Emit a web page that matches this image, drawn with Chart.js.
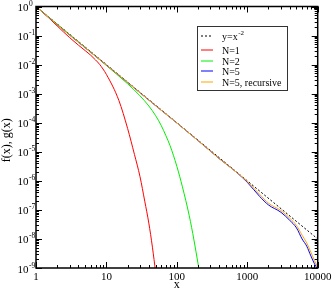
<!DOCTYPE html>
<html>
<head>
<meta charset="utf-8">
<script src="https://cdn.jsdelivr.net/npm/chart.js@4/dist/chart.umd.min.js"></script>
<style>
  html, body { margin: 0; padding: 0; background: #fff; }
  #wrap { width: 332px; height: 291px; }
</style>
</head>
<body>
<div id="wrap"><canvas id="chart" width="332" height="291"></canvas></div>
<script>
// values
const xPow = [1, 10, 100, 1000, 10000];
const yPow = [1, 1e-2, 1e-4, 1e-6, 1e-8];

const xN1 = [1, 1.5, 2, 3, 4, 5, 6, 7, 8, 10, 15, 20, 25, 30, 35, 40, 45, 50];
const yN1 = [1, 0.417, 0.214, 0.0851, 0.0468, 0.0302, 0.0209, 0.0145, 0.0102, 0.00457, 5.9e-4, 6.3e-5, 8.1e-6, 1.38e-6, 2.0e-7, 3.5e-8, 5.2e-9, 7.1e-10];

const xN2 = [1, 2, 3, 5, 7, 10, 20, 30, 40, 50, 60, 70, 80, 100, 120, 150, 175, 200, 210];
const yN2 = [1, 0.245, 0.108, 0.0385, 0.0196, 0.0093, 0.00219, 8.4e-4, 3.77e-4, 1.75e-4, 8.0e-5, 3.55e-5, 1.64e-5, 3.16e-6, 6.2e-7, 6.3e-8, 9.2e-9, 1.4e-9, 7.2e-10];

const xN5 = [1, 2, 3, 5, 10, 20, 30, 50, 100, 200, 300, 400, 500, 700, 1000, 1500, 2000, 3000, 4000, 5000, 6000, 7000, 8000, 9000, 10000];
const yN5 = [1, 0.235, 0.104, 0.038, 0.0096, 0.00243, 0.00107, 3.85e-4, 9.8e-5, 2.42e-5, 1.05e-5, 5.8e-6, 3.8e-6, 1.98e-6, 8.9e-7, 2.9e-7, 1.48e-7, 8.3e-8, 4.4e-8, 2.4e-8, 1.0e-8, 5.6e-9, 2.6e-9, 1.4e-9, 8.9e-10];
const yN5r = [1, 0.235, 0.104, 0.038, 0.0096, 0.00243, 0.00107, 3.85e-4, 9.8e-5, 2.42e-5, 1.05e-5, 5.8e-6, 3.8e-6, 1.98e-6, 9.5e-7, 3.4e-7, 1.7e-7, 9.5e-8, 5.2e-8, 2.9e-8, 1.35e-8, 7.2e-9, 3.5e-9, 1.8e-9, 1.05e-9];

const seriesLabels = ['y=x^-2', 'N=1', 'N=2', 'N=5', 'N=5, recursive'];
const xTickLabels = ['1', '10', '100', '1000', '10000'];
const yExponents = [0, -1, -2, -3, -4, -5, -6, -7, -8, -9];
const xTitle = 'x';
const yTitle = 'f(x), g(x)';

const serif = '"Liberation Serif", "Times New Roman", serif';

function pts(xs, ys) {
  return xs.map((v, i) => ({ x: v, y: ys[i] }));
}

// text with an optional "^" superscript part
function drawSup(ctx, text, x, y, size) {
  const parts = text.split('^');
  ctx.textAlign = 'left';
  ctx.font = size + 'px ' + serif;
  ctx.fillText(parts[0], x, y);
  if (parts[1]) {
    const w1 = ctx.measureText(parts[0]).width;
    ctx.font = Math.round(size * 0.7) + 'px ' + serif;
    ctx.fillText(parts[1], x + w1 + 0.5, y - size * 0.45);
  }
}

const frame = {
  id: 'frame',
  afterDatasetsDraw(chart) {
    const { ctx, chartArea: a, scales: { x, y } } = chart;
    ctx.save();
    ctx.strokeStyle = '#000';
    ctx.fillStyle = '#000';
    ctx.lineWidth = 1;
    ctx.setLineDash([]);

    // inward ticks on all four sides
    ctx.beginPath();
    for (let e = 0; e <= 4; e++) {
      for (let m = 1; m < 10; m++) {
        const v = m * Math.pow(10, e);
        if (v > 10000) break;
        const px = Math.round(x.getPixelForValue(v)) + 0.5;
        const len = m === 1 ? 6 : 3;
        ctx.moveTo(px, a.bottom); ctx.lineTo(px, a.bottom - len);
        ctx.moveTo(px, a.top); ctx.lineTo(px, a.top + len);
      }
    }
    for (let e = -9; e <= 0; e++) {
      for (let m = 1; m < 10; m++) {
        const v = m * Math.pow(10, e);
        if (v > 1) break;
        const py = Math.round(y.getPixelForValue(v)) + 0.5;
        const len = m === 1 ? 6 : 3;
        ctx.moveTo(a.left, py); ctx.lineTo(a.left + len, py);
        ctx.moveTo(a.right, py); ctx.lineTo(a.right - len, py);
      }
    }
    ctx.stroke();

    ctx.lineWidth = 1.5;
    ctx.strokeRect(a.left, a.top, a.right - a.left, a.bottom - a.top);

    // x tick labels
    ctx.textBaseline = 'alphabetic';
    ctx.font = '11px ' + serif;
    ctx.textAlign = 'center';
    xTickLabels.forEach(t => {
      ctx.fillText(t, x.getPixelForValue(Number(t)), a.bottom + 12);
    });

    // y tick labels 10^n
    yExponents.forEach(e => {
      const py = y.getPixelForValue(Math.pow(10, e));
      ctx.font = '11px ' + serif;
      ctx.textAlign = 'right';
      ctx.fillText('10', 28.5, py + 4.5);
      ctx.font = '7.5px ' + serif;
      ctx.textAlign = 'left';
      ctx.fillText(e === 0 ? '0' : '-' + Math.abs(e), 29, py - 0.5);
    });

    // axis titles
    ctx.font = '12px ' + serif;
    ctx.textAlign = 'center';
    ctx.fillText(xTitle, (a.left + a.right) / 2, 288);
    ctx.save();
    ctx.translate(10, (a.top + a.bottom) / 2 + 3);
    ctx.rotate(-Math.PI / 2);
    ctx.fillText(yTitle, 0, 0);
    ctx.restore();

    // legend box
    const bx = 197.5, by = 26.5, bw = 90, bh = 64;
    ctx.fillStyle = '#fff';
    ctx.fillRect(bx, by, bw, bh);
    ctx.strokeStyle = '#333';
    ctx.lineWidth = 1;
    ctx.strokeRect(bx, by, bw, bh);
    const rows = [36, 49.5, 60.5, 71, 81.5];
    chart.data.datasets.forEach((ds, i) => {
      const ry = Math.round(rows[i]);
      ctx.strokeStyle = ds.borderColor;
      ctx.lineWidth = 1;
      ctx.setLineDash(ds.borderDash || []);
      ctx.beginPath();
      ctx.moveTo(201, ry);
      ctx.lineTo(213, ry);
      ctx.stroke();
      ctx.setLineDash([]);
      ctx.fillStyle = '#000';
      drawSup(ctx, ds.label, 222, ry + 3.5, 10);
    });
    ctx.restore();
  }
};

const ctx = document.getElementById('chart').getContext('2d');
const chart = new Chart(ctx, {
  type: 'line',
  data: {
    datasets: [
      { label: seriesLabels[0], data: pts(xPow, yPow), borderColor: '#000000', borderDash: [2, 2], order: 5 },
      { label: seriesLabels[1], data: pts(xN1, yN1), borderColor: '#ff0000', order: 4 },
      { label: seriesLabels[2], data: pts(xN2, yN2), borderColor: '#00ee00', order: 3 },
      { label: seriesLabels[3], data: pts(xN5, yN5), borderColor: '#0000ff', order: 2 },
      { label: seriesLabels[4], data: pts(xN5, yN5r), borderColor: '#ffa500', order: 1 }
    ].map(d => Object.assign(d, {
      borderWidth: 1,
      pointRadius: 0,
      fill: false,
      cubicInterpolationMode: 'monotone'
    }))
  },
  options: {
    responsive: false,
    animation: false,
    devicePixelRatio: 1,
    layout: { padding: { left: 36, right: 14.3, top: 6.5, bottom: 23 } },
    plugins: {
      legend: { display: false },
      tooltip: { enabled: false }
    },
    scales: {
      x: { type: 'logarithmic', min: 1, max: 10000, display: false },
      y: { type: 'logarithmic', min: 1e-9, max: 1, display: false }
    }
  },
  plugins: [frame]
});
</script>
</body>
</html>
